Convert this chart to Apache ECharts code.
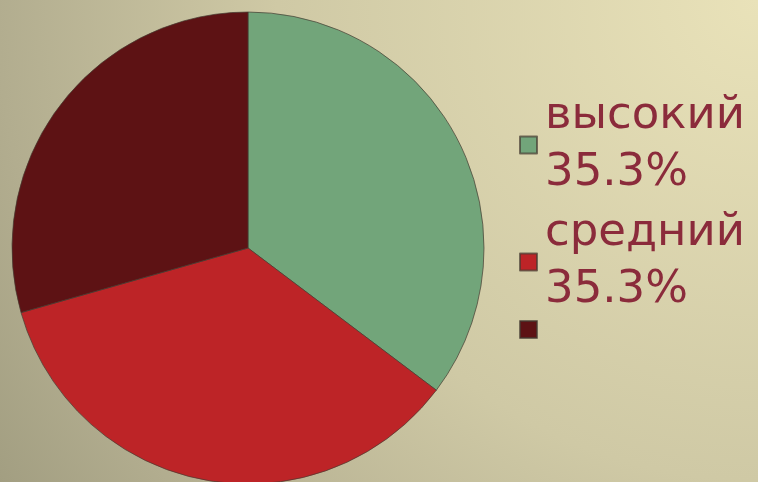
<!DOCTYPE html>
<html>
<head>
<meta charset="utf-8">
<script src="https://cdn.jsdelivr.net/npm/echarts@6/dist/echarts.min.js"></script>
<style>
  html, body { margin: 0; padding: 0; }
  body {
    width: 758px; height: 482px; overflow: hidden;
    background: radial-gradient(circle at 100% 0%, #E9E2B9 0px, #CFC9A5 480px, #B2AD8F 760px, #A29E81 900px);
  }
  #chart { width: 758px; height: 482px; }
</style>
</head>
<body>
<div id="chart"></div>
<script>
// Data
var categories = ['высокий', 'средний', 'низкий'];
var values = [6, 6, 5];
var showInLegendText = [true, true, false];
var colors = ['#72A57A', '#BD2427', '#5D1214'];

var total = values.reduce(function (a, b) { return a + b; }, 0);
var pieData = categories.map(function (c, i) {
  return { name: c, value: values[i], itemStyle: { color: colors[i] } };
});

function legendText(name) {
  var i = categories.indexOf(name);
  if (!showInLegendText[i]) return '';
  return name + '\n' + (values[i] / total * 100).toFixed(1) + '%';
}

var legendTops = [88, 205, 320];
var legends = categories.map(function (c, i) {
  var hasText = showInLegendText[i];
  return {
    orient: 'vertical',
    left: 519,
    top: legendTops[i],
    padding: 0,
    icon: 'rect',
    itemWidth: 17,
    itemHeight: 17,
    itemGap: 0,
    selectedMode: false,
    data: [c],
    formatter: legendText,
    textStyle: {
      fontFamily: 'DejaVu Sans',
      fontSize: hasText ? 45 : 12,
      lineHeight: hasText ? 57 : 17,
      padding: [0, 0, 0, 3],
      color: '#8B2B3B'
    }
  };
});

var chart = echarts.init(document.getElementById('chart'), null, { renderer: 'canvas' });
chart.setOption({
  backgroundColor: 'transparent',
  animation: false,
  legend: legends,
  series: [{
    type: 'pie',
    center: [248, 248],
    radius: 236,
    startAngle: 90,
    clockwise: true,
    label: { show: false },
    labelLine: { show: false },
    emphasis: { disabled: true },
    itemStyle: { borderColor: 'rgba(70,60,50,0.7)', borderWidth: 1 },
    data: pieData
  }]
});
</script>
</body>
</html>
